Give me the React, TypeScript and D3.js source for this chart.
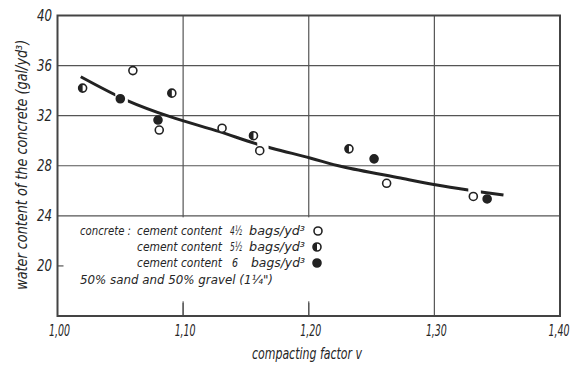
import React from 'react';
import * as d3 from 'd3';

// compacting factor v / water content (gal/yd3)
const open45X = [1.060, 1.081, 1.131, 1.161, 1.262, 1.331];
const open45Y = [35.6, 30.85, 31.0, 29.2, 26.6, 25.55];
const half55X = [1.020, 1.091, 1.156, 1.232];
const half55Y = [34.2, 33.8, 30.4, 29.35];
const full6X = [1.050, 1.080, 1.252, 1.342];
const full6Y = [33.35, 31.65, 28.55, 25.35];

// fitted curve
const curveX = [1.0185, 1.056, 1.0896, 1.129, 1.1586, 1.201, 1.227, 1.273, 1.302, 1.327, 1.355];
const curveY = [35.11, 33.19, 31.92, 30.72, 29.74, 28.62, 27.92, 27.02, 26.46, 26.06, 25.66];
// where the curve is broken around a point
const curveGaps = [[1.046, 1.056], [1.159, 1.168], [1.327, 1.337]];

const xTicks = [1.0, 1.1, 1.2, 1.3, 1.4];
const xTickLabels = ['1,00', '1,10', '1,20', '1,30', '1,40'];
const yTicks = [20, 24, 28, 32, 36, 40];
const yGrid = [24, 28, 32, 36];
const xGrid = [1.1, 1.2, 1.3];

const W = 573;
const H = 365;
const font = '"DejaVu Sans", sans-serif';
const ink = '#262626';

const x = d3.scaleLinear().domain([1.0, 1.4]).range([57.5, 560]);
const y = d3.scaleLinear().domain([16, 40]).range([316, 15.5]);

const Marker: React.FC<{ cx: number; cy: number; kind: 'open' | 'half' | 'full' }> = ({ cx, cy, kind }) => {
  const r = 4;
  if (kind === 'half') {
    return (
      <g>
        <circle cx={cx} cy={cy} r={r} fill="white" stroke="#222" strokeWidth={1.6} />
        <path d={`M${cx},${cy - r} A${r},${r} 0 0 0 ${cx},${cy + r} Z`} fill="#222" />
      </g>
    );
  }
  return (
    <circle cx={cx} cy={cy} r={r} fill={kind === 'full' ? '#222' : 'white'} stroke="#222" strokeWidth={1.6} />
  );
};

// condensed italic text, squeezed to the width seen in the reference
const T: React.FC<{ x: number; y: number; w: number; size?: number; anchor?: string; children: React.ReactNode }> = ({ x, y, w, size = 12, anchor = 'start', children }) => (
  <text
    x={x}
    y={y}
    textLength={w}
    lengthAdjust="spacingAndGlyphs"
    textAnchor={anchor}
    fontSize={size}
    style={{ fontFamily: font, fontStyle: 'italic', fill: ink }}
  >
    {children}
  </text>
);

const App: React.FC = () => {
  const curvePts: [number, number][] = curveX.map((v, i) => [x(v), y(curveY[i])]);
  const line = d3.line().curve(d3.curveCatmullRom)(curvePts) || '';

  return (
    <div style={{ position: 'fixed', left: 0, top: 0, background: 'white' }}>
      <svg width={W} height={H} viewBox={`0 0 ${W} ${H}`}>
        <defs>
          <mask id="gapMask">
            <rect x={0} y={0} width={W} height={H} fill="white" />
            {curveGaps.map((g, i) => (
              <rect key={i} x={x(g[0])} y={0} width={x(g[1]) - x(g[0])} height={H} fill="black" />
            ))}
          </mask>
        </defs>
        <rect x={0} y={0} width={W} height={H} fill="white" />

        {/* grid */}
        {yGrid.map(v => (
          <line key={'h' + v} x1={x(1.0)} x2={x(1.4)} y1={y(v)} y2={y(v)} stroke="#555" strokeWidth={1.2} />
        ))}
        {xGrid.map(v => (
          <line key={'v' + v} x1={x(v)} x2={x(v)} y1={y(40)} y2={y(16)} stroke="#555" strokeWidth={1.2} />
        ))}

        {/* legend panel hides the grid */}
        <rect x={x(1.0) + 1.5} y={y(24) + 1.5} width={272} height={84} fill="white" />
        <line x1={x(1.1)} x2={x(1.1)} y1={303} y2={y(16)} stroke="#555" strokeWidth={1.2} />
        <line x1={x(1.2)} x2={x(1.2)} y1={303} y2={y(16)} stroke="#555" strokeWidth={1.2} />
        <line x1={x(1.0)} x2={x(1.0) + 6} y1={y(20)} y2={y(20)} stroke="#555" strokeWidth={1.2} />

        {/* frame */}
        <rect x={x(1.0)} y={y(40)} width={x(1.4) - x(1.0)} height={y(16) - y(40)} fill="none" stroke="#444" strokeWidth={2} />

        {/* curve */}
        <path d={line} fill="none" stroke="#222" strokeWidth={3} mask="url(#gapMask)" />

        {/* points */}
        {open45X.map((v, i) => <Marker key={'o' + i} cx={x(v)} cy={y(open45Y[i])} kind="open" />)}
        {half55X.map((v, i) => <Marker key={'h' + i} cx={x(v)} cy={y(half55Y[i])} kind="half" />)}
        {full6X.map((v, i) => <Marker key={'f' + i} cx={x(v)} cy={y(full6Y[i])} kind="full" />)}

        {/* tick labels */}
        {yTicks.map(v => (
          <T key={'yt' + v} x={52} y={y(v) + 5.5} w={15} size={15} anchor="end">{v}</T>
        ))}
        {xTicks.map((v, i) => (
          <T key={'xt' + v} x={i === 4 ? x(v) - 1 : x(v) + 2} y={336} w={21} size={15} anchor="middle">{xTickLabels[i]}</T>
        ))}

        {/* axis titles */}
        <T x={307} y={359} w={110} size={15} anchor="middle">compacting factor v</T>
        <g transform={`translate(27,${y(28) - 1}) rotate(-90)`}>
          <T x={0} y={0} w={250} size={15} anchor="middle">water content of the concrete (gal/yd³)</T>
        </g>

        {/* legend */}
        <T x={80} y={235} w={51} size={12.5}>concrete :</T>
        <T x={137} y={235} w={85} size={12.5}>cement content</T>
        <T x={230} y={235} w={12} size={12.5}>4½</T>
        <T x={249} y={235} w={56} size={12.5}>bags/yd³</T>
        <T x={137} y={251} w={85} size={12.5}>cement content</T>
        <T x={230} y={251} w={12} size={12.5}>5½</T>
        <T x={249} y={251} w={56} size={12.5}>bags/yd³</T>
        <T x={137} y={267} w={85} size={12.5}>cement content</T>
        <T x={232} y={267} w={6} size={12.5}>6</T>
        <T x={251} y={267} w={54} size={12.5}>bags/yd³</T>
        <T x={80} y={284} w={193} size={12.5}>50% sand and 50% gravel (1¼")</T>
        <Marker cx={318} cy={231} kind="open" />
        <Marker cx={317} cy={247} kind="half" />
        <Marker cx={317} cy={263} kind="full" />
      </svg>
    </div>
  );
};

export default App;
